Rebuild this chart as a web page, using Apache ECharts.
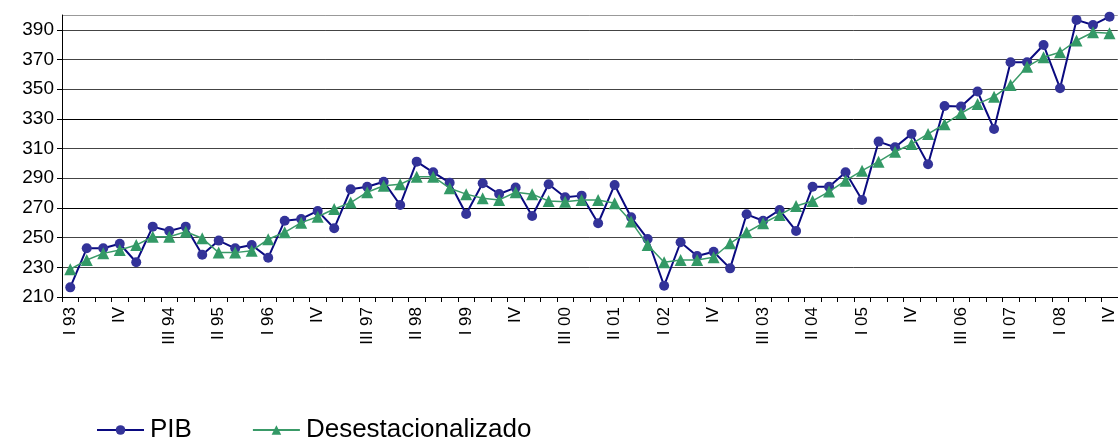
<!DOCTYPE html>
<html>
<head>
<meta charset="utf-8">
<script src="https://cdn.jsdelivr.net/npm/echarts@6/dist/echarts.min.js"></script>
<style>
html,body{margin:0;padding:0;background:#fff;}
#chart{width:1118px;height:439px;}
</style>
</head>
<body>
<div id="chart"></div>
<script>
const categories = [
  'I 93','II 93','III 93','IV',
  'I 94','II 94','III 94','IV',
  'I 95','II 95','III 95','IV',
  'I 96','II 96','III 96','IV',
  'I 97','II 97','III 97','IV',
  'I 98','II 98','III 98','IV',
  'I 99','II 99','III 99','IV',
  'I 00','II 00','III 00','IV',
  'I 01','II 01','III 01','IV',
  'I 02','II 02','III 02','IV',
  'I 03','II 03','III 03','IV',
  'I 04','II 04','III 04','IV',
  'I 05','II 05','III 05','IV',
  'I 06','II 06','III 06','IV',
  'I 07','II 07','III 07','IV',
  'I 08','II 08','III 08','IV'
];
const pib = [
  216.5, 242.8, 242.8, 245.9, 233.4, 257.4, 254.5, 257.4,
  238.5, 248.0, 242.8, 245.0, 236.5, 261.4, 262.6, 268.0,
  256.3, 282.6, 284.3, 287.7, 272.0, 301.2, 294.0, 287.0,
  265.9, 286.6, 279.4, 283.7, 264.6, 286.0, 277.2, 278.3,
  259.7, 285.5, 263.7, 249.1, 217.6, 246.9, 237.6, 240.5,
  229.3, 265.7, 261.4, 268.6, 254.5, 284.3, 284.3, 294.0,
  275.4, 314.7, 310.9, 319.9, 299.4, 338.7, 338.3, 348.4,
  323.2, 368.2, 368.2, 379.8, 350.7, 396.7, 393.3, 398.9
];
const desest = [
  228.7, 234.9, 239.4, 241.7, 245.0, 250.6, 250.6, 254.0,
  249.6, 239.9, 239.9, 241.2, 248.9, 253.6, 260.1, 264.1,
  269.3, 273.6, 280.6, 285.0, 286.0, 291.1, 291.1, 283.3,
  279.3, 276.5, 275.4, 280.6, 279.3, 274.7, 274.2, 275.4,
  275.4, 273.2, 260.8, 245.0, 233.4, 234.9, 234.9, 236.8,
  246.2, 253.6, 259.7, 265.3, 271.3, 274.7, 281.0, 288.4,
  295.1, 301.2, 307.9, 313.1, 319.9, 326.4, 333.8, 340.1,
  345.0, 352.9, 365.2, 371.5, 374.9, 382.8, 388.4, 387.7
];
const seriesNames = ['PIB', 'Desestacionalizado'];
const yMin = 210, yMax = 400, yStep = 20;

const chart = echarts.init(document.getElementById('chart'), null, {renderer: 'canvas'});
const font = '"Liberation Sans", Arial, sans-serif';
chart.setOption({
  animation: false,
  backgroundColor: '#ffffff',
  grid: {left: 62, top: 15, width: 1059, height: 282, containLabel: false},
  legend: {
    left: 91, top: 412,
    itemWidth: 47, itemHeight: 12, itemGap: 60,
    textStyle: {fontFamily: font, fontSize: 26, color: '#000', padding: [0, 0, 0, 1]},
    data: seriesNames
  },
  xAxis: {
    type: 'category',
    data: categories,
    boundaryGap: true,
    axisLine: {lineStyle: {color: '#000', width: 1}},
    axisTick: {show: true, interval: 0, length: 5, lineStyle: {color: '#000'}},
    axisLabel: {interval: 2, rotate: 90, margin: 10, fontFamily: font, fontSize: 17, color: '#000'},
    splitLine: {show: false}
  },
  yAxis: {
    type: 'value',
    min: yMin, max: yMax, interval: yStep,
    axisLine: {show: true, lineStyle: {color: '#000', width: 1}},
    axisTick: {show: true, length: 5, lineStyle: {color: '#000'}},
    axisLabel: {showMaxLabel: false, margin: 8, fontFamily: font, fontSize: 19, color: '#000'},
    splitLine: {show: true, lineStyle: {color: ['#000','#444','#444','#000','#444','#444','#000','#444','#444','#444','#999'], width: 1}}
  },
  series: [
    {
      name: seriesNames[0], type: 'line', data: pib,
      symbol: 'circle', symbolSize: 10, showAllSymbol: true,
      lineStyle: {color: '#0a0a80', width: 2},
      itemStyle: {color: '#333399'},
      z: 3
    },
    {
      name: seriesNames[1], type: 'line', data: desest,
      symbol: 'triangle', symbolSize: 12, showAllSymbol: true,
      lineStyle: {color: '#3a9a68', width: 1.5},
      itemStyle: {color: '#339966'},
      z: 4
    }
  ]
});
</script>
</body>
</html>
